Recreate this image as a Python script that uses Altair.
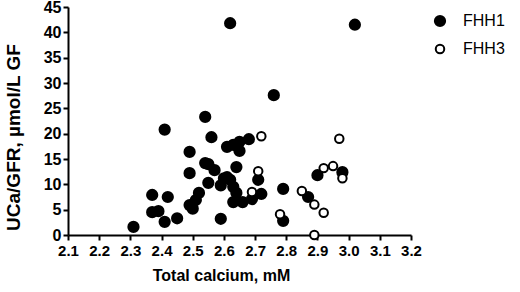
import altair as alt
import pandas as pd

# FHH1 (filled circles)
fhh1_ca = [2.31, 2.37, 2.42, 2.37, 2.39, 2.41, 2.45, 2.41, 2.49, 2.49,
           2.49, 2.50, 2.51, 2.52, 2.54, 2.56, 2.54, 2.55, 2.57, 2.55,
           2.61, 2.63, 2.65, 2.65, 2.68, 2.64, 2.60, 2.62, 2.59, 2.63,
           2.64, 2.63, 2.66, 2.69, 2.72, 2.71, 2.59, 2.62, 3.02, 2.76,
           2.79, 2.79, 2.87, 2.90, 2.98, 2.61]
fhh1_uca = [1.6, 7.9, 7.5, 4.5, 4.7, 2.6, 3.3, 20.8, 16.4, 12.2,
            5.9, 5.2, 6.9, 8.3, 23.3, 19.3, 14.2, 14.0, 12.8, 10.3,
            17.4, 17.8, 18.4, 16.6, 18.9, 13.4, 11.2, 10.9, 9.8, 9.5,
            8.3, 6.5, 6.5, 7.1, 8.1, 10.9, 3.2, 41.8, 41.5, 27.6,
            9.1, 2.8, 7.5, 11.8, 12.4, 11.4]

# FHH3 (open circles)
fhh3_ca = [2.72, 2.71, 2.69, 2.78, 2.85, 2.89, 2.92, 2.89, 2.92, 2.95, 2.98, 2.97]
fhh3_uca = [19.5, 12.6, 8.5, 4.1, 8.7, 6.0, 4.4, 0.0, 13.2, 13.6, 11.2, 19.0]

groups = ["FHH1", "FHH3"]
x_ticks = [2.1, 2.2, 2.3, 2.4, 2.5, 2.6, 2.7, 2.8, 2.9, 3.0, 3.1, 3.2]
y_ticks = [0, 5, 10, 15, 20, 25, 30, 35, 40, 45]

df = pd.concat([
    pd.DataFrame({"ca": fhh1_ca, "uca": fhh1_uca, "group": "FHH1"}),
    pd.DataFrame({"ca": fhh3_ca, "uca": fhh3_uca, "group": "FHH3"}),
], ignore_index=True)

FONT = "Liberation Sans"

chart = alt.Chart(df).mark_point(
    shape="circle", filled=True, stroke="black", strokeWidth=2,
    opacity=1, fillOpacity=1, clip=False
).encode(
    x=alt.X("ca:Q", scale=alt.Scale(domain=[2.1, 3.2], nice=False, zero=False),
            axis=alt.Axis(values=x_ticks, format=".1f", title="Total calcium, mM",
                          titleX=153, titleY=45, titleAlign="center",
                          titleBaseline="alphabetic", labelFlush=False)),
    y=alt.Y("uca:Q", scale=alt.Scale(domain=[0, 45], nice=False),
            axis=alt.Axis(values=y_ticks, title="UCa/GFR, µmol/L GF",
                          titleX=-55, titleY=130, titleAngle=270,
                          titleAlign="center", titleBaseline="middle",
                          labelFlush=False)),
    fill=alt.Fill("group:N", scale=alt.Scale(domain=groups, range=["black", "white"]),
                  legend=alt.Legend(title=None, orient="none", legendX=364, legendY=6)),
    size=alt.Size("group:N", scale=alt.Scale(domain=groups, range=[105, 72]),
                  legend=alt.Legend(title=None, orient="none", legendX=364, legendY=6)),
    order=alt.Order("group:N"),
).properties(
    width=343, height=228,
    padding={"left": 68, "top": 7, "right": 109, "bottom": 57},
    autosize=alt.AutoSizeParams(type="none"),
).configure_view(stroke=None).configure_axis(
    grid=False, domainColor="black", domainWidth=2, tickColor="black", tickWidth=2,
    tickSize=5, labelFont=FONT, labelFontWeight="bold", labelColor="black",
    titleFont=FONT, titleFontWeight="bold", titleColor="black",
).configure_axisX(
    labelFontSize=15, labelPadding=3, titleFontSize=16,
).configure_axisY(
    labelFontSize=16, labelPadding=2, titleFontSize=19,
).configure_legend(
    labelFont=FONT, labelFontSize=16, labelColor="black", symbolStrokeColor="black",
    symbolStrokeWidth=2, labelOffset=15, rowPadding=9, padding=0,
    symbolType="circle", symbolFillColor="black",
)

chart.save("out.html", embed_options={"renderer": "svg", "actions": False})
